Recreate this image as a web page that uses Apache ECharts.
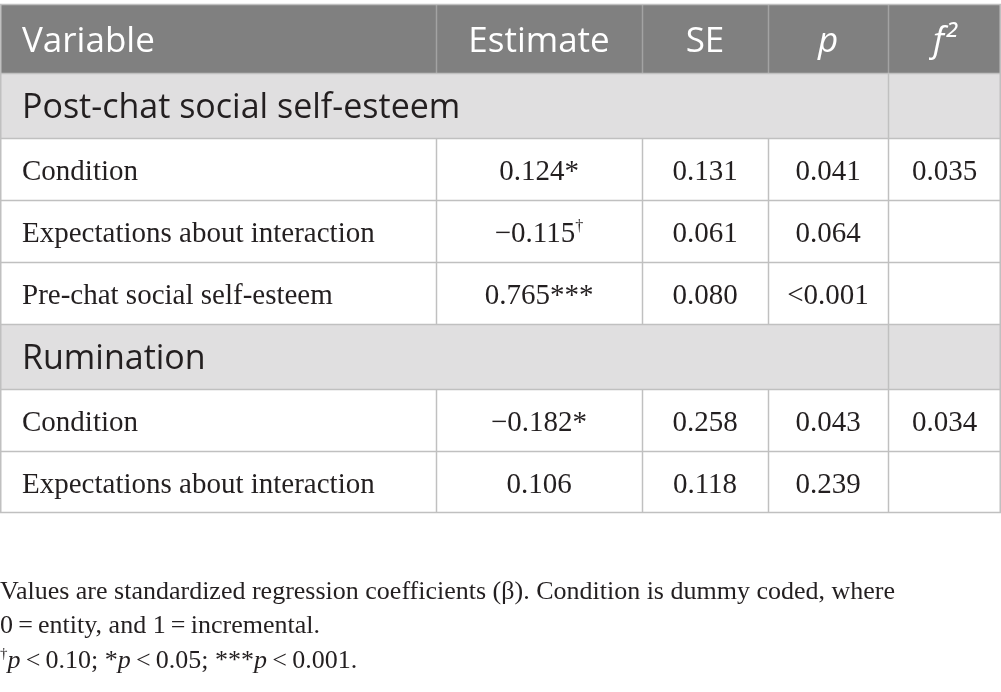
<!DOCTYPE html>
<html>
<head>
    <meta charset="utf-8">
    <title>Regression table</title>
    <script src="https://cdn.jsdelivr.net/npm/echarts@6/dist/echarts.min.js"></script>
    <style>
        html, body { margin: 0; padding: 0; background: #fff; }
        #table-chart { width: 1001px; height: 692px; }
    </style>
</head>
<body>
<div id="table-chart"></div>
<script>
    // table content
    var headers = ['Variable', 'Estimate', 'SE', 'p', 'f²'];
    var sections = ['Post-chat social self-esteem', 'Rumination'];
    var sectionOfRow = [0, 0, 0, 1, 1];
    var variables = ['Condition', 'Expectations about interaction', 'Pre-chat social self-esteem',
        'Condition', 'Expectations about interaction'];
    var estimates = ['0.124*', '−0.115', '0.765***', '−0.182*', '0.106'];
    var estimateMarks = ['', '†', '', '', ''];
    var standardErrors = ['0.131', '0.061', '0.080', '0.258', '0.118'];
    var pValues = ['0.041', '0.064', '<0.001', '0.043', '0.239'];
    var effectSizes = ['0.035', '', '', '0.034', ''];
    var noteLines = [
        'Values are standardized regression coefficients (β). Condition is dummy coded, where',
        '0\u2009=\u2009entity, and 1\u2009=\u2009incremental.',
        '{sup|†}{it|p}\u2009<\u20090.10; *{it|p}\u2009<\u20090.05; ***{it|p}\u2009<\u20090.001.'
    ];

    // layout
    var colEdges = [0, 436, 642, 768, 888, 1001];
    var tableTop = 4, headerH = 69, sectionH = 65, rowH = 62;
    var sansFont = '"Open Sans", "Noto Sans", sans-serif';
    var serifFont = '"Liberation Serif", "DejaVu Serif", serif';
    var lineColor = '#c0c0c0';
    var bodySize = 29;

    var chart = echarts.init(document.getElementById('table-chart'));

    // build the row list: header, then each section followed by its rows
    var rows = [{kind: 'header'}];
    sections.forEach(function (name, s) {
        rows.push({kind: 'section', label: name});
        sectionOfRow.forEach(function (sec, i) {
            if (sec === s) rows.push({kind: 'data', index: i});
        });
    });

    var elements = [];
    var y = tableTop;

    function hline(yy, color) {
        elements.push({type: 'line', silent: true,
            shape: {x1: 0, y1: yy, x2: 1001, y2: yy},
            style: {stroke: color || lineColor, lineWidth: 1.5}});
    }
    function vline(x, y1, y2, color) {
        elements.push({type: 'line', silent: true,
            shape: {x1: x, y1: y1, x2: x, y2: y2},
            style: {stroke: color || lineColor, lineWidth: 1.5}});
    }
    function cellText(text, x, yy, align, font, color, rich) {
        var st = {text: text, x: x, y: yy, align: align, verticalAlign: 'middle', font: font, fill: color};
        if (rich) st.rich = rich;
        elements.push({type: 'text', silent: true, z: 10, style: st});
    }
    function colCenter(c) { return (colEdges[c] + colEdges[c + 1]) / 2; }

    var bodyFont = bodySize + 'px ' + serifFont;
    var bodyRich = {
        v: {font: bodyFont, fill: '#231f20', lineHeight: 30},
        sup: {font: '16px ' + serifFont, fill: '#231f20', lineHeight: 14, verticalAlign: 'top'}
    };

    rows.forEach(function (row) {
        var h = row.kind === 'header' ? headerH : (row.kind === 'section' ? sectionH : rowH);
        var mid = y + h / 2;
        if (row.kind === 'header') {
            elements.push({type: 'rect', silent: true, shape: {x: 0, y: y, width: 1001, height: h},
                style: {fill: '#808080'}});
            for (var c = 1; c < 5; c++) vline(colEdges[c] + 0.5, y, y + h, '#a3a3a3');
            headers.forEach(function (t, c) {
                var italic = (c >= 3) ? 'italic ' : '';
                if (c === 0) cellText(t, 22, mid + 4, 'left', '35px ' + sansFont, '#ffffff');
                else cellText(t, colCenter(c), mid + 4, 'center', italic + '35px ' + sansFont, '#ffffff');
            });
        } else if (row.kind === 'section') {
            elements.push({type: 'rect', silent: true, shape: {x: 0, y: y, width: 1001, height: h},
                style: {fill: '#e0dfe0'}});
            vline(colEdges[4] + 0.5, y, y + h);
            cellText(row.label, 22, mid + 3, 'left', '34px ' + sansFont, '#231f20');
        } else {
            var i = row.index;
            var ty = mid + 3;
            for (var k = 1; k < 5; k++) vline(colEdges[k] + 0.5, y, y + h);
            cellText(variables[i], 22, ty, 'left', bodyFont, '#231f20');
            var est = estimateMarks[i] ? '{v|' + estimates[i] + '}{sup|' + estimateMarks[i] + '}'
                : '{v|' + estimates[i] + '}';
            cellText(est, colCenter(1), ty, 'center', bodyFont, '#231f20', bodyRich);
            cellText(standardErrors[i], colCenter(2), ty, 'center', bodyFont, '#231f20');
            cellText(pValues[i], colCenter(3), ty, 'center', bodyFont, '#231f20');
            if (effectSizes[i]) cellText(effectSizes[i], colCenter(4), ty, 'center', bodyFont, '#231f20');
        }
        hline(y + 0.5);
        y += h;
    });
    hline(y - 0.5);
    vline(0.75, tableTop, y);
    vline(1000.25, tableTop, y);

    // footnote
    var noteRich = {
        sup: {font: '15px ' + serifFont, fill: '#231f20', lineHeight: 12, verticalAlign: 'top'},
        it: {font: 'italic 26px ' + serifFont, fill: '#231f20', lineHeight: 28}
    };
    noteLines.forEach(function (t, n) {
        cellText(t, 0, 592 + n * 34.5, 'left', '26px ' + serifFont, '#231f20', n === 2 ? noteRich : null);
    });

    chart.setOption({
        animation: false,
        graphic: {elements: elements}
    });
</script>
</body>
</html>
